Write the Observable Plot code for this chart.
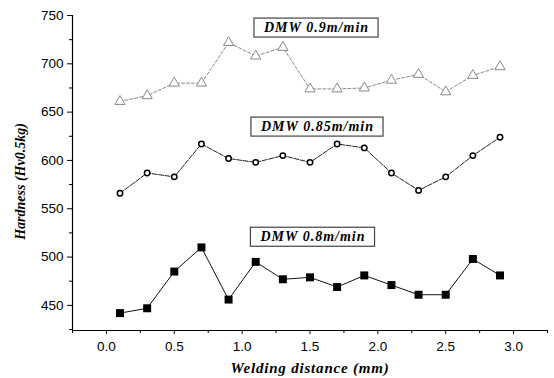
<!DOCTYPE html>
<html>
<head>
<meta charset="utf-8">
<script src="https://cdn.jsdelivr.net/npm/d3@7"></script>
<script src="https://cdn.jsdelivr.net/npm/@observablehq/plot@0.6"></script>
<style>
  html, body { margin: 0; padding: 0; background: #fff; }
  svg { display: block; }
</style>
</head>
<body>
<div id="chart"></div>
<script>
const distance = [0.1, 0.3, 0.5, 0.7, 0.9, 1.1, 1.3, 1.5, 1.7, 1.9, 2.1, 2.3, 2.5, 2.7, 2.9];
const dmw08 = [442, 447, 485, 510, 456, 495, 477, 479, 469, 481, 471, 461, 461, 498, 481];
const dmw085 = [566, 587, 583, 617, 602, 598, 605, 598, 617, 613, 587, 569, 583, 605, 624];
const dmw09 = [661, 667, 680, 680, 722, 708, 717, 674, 674, 675, 683, 689, 671, 688, 697];
const seriesNames = ["DMW 0.8m/min", "DMW 0.85m/min", "DMW 0.9m/min"];
const xTicks = [0, 0.5, 1.0, 1.5, 2.0, 2.5, 3.0];
const yTicks = [450, 500, 550, 600, 650, 700, 750];

const toRows = (vals) => distance.map((x, i) => ({x, y: vals[i]}));
const r08 = toRows(dmw08), r085 = toRows(dmw085), r09 = toRows(dmw09);

const xMinor = d3.range(-0.25, 3.26, 0.5);
const yMinor = d3.range(425, 751, 50);

const labels = [
  {x: 1.548, y: 737.5, text: seriesNames[2]},
  {x: 1.555, y: 635, text: seriesNames[1]},
  {x: 1.522, y: 521, text: seriesNames[0]}
];

const serif = "Liberation Serif, Times New Roman, serif";

const plot = Plot.plot({
  width: 554,
  height: 378,
  marginLeft: 72,
  marginRight: 7,
  marginTop: 15,
  marginBottom: 48,
  style: {fontFamily: "Liberation Sans, Arial, sans-serif", fontSize: "13px", background: "#fff"},
  x: {domain: [-0.25, 3.25]},
  y: {domain: [424, 750]},
  marks: [
    Plot.ruleX([-0.25], {stroke: "#000", strokeWidth: 1.2}),
    Plot.ruleY([424], {stroke: "#000", strokeWidth: 1.2}),
    Plot.axisX({ticks: xTicks, tickFormat: d3.format(".1f"), tickSize: 4, tickPadding: 7, fontSize: 13.5, label: null}),
    Plot.axisX({ticks: xMinor, tickSize: 3, text: null, label: null}),
    Plot.axisY({ticks: yTicks, tickSize: 5, tickPadding: 4, fontSize: 13.5, label: null}),
    Plot.axisY({ticks: yMinor, tickSize: 3, text: null, label: null}),
    Plot.line(r09, {x: "x", y: "y", stroke: "#888", strokeWidth: 1, strokeDasharray: "3,2"}),
    Plot.dot(r09, {x: "x", y: "y", symbol: "triangle", r: 3.8, stroke: "#888", strokeWidth: 1, fill: "#fff"}),
    Plot.line(r085, {x: "x", y: "y", stroke: "#222", strokeWidth: 1, strokeDasharray: "5,1.5"}),
    Plot.dot(r085, {x: "x", y: "y", symbol: "circle", r: 2.7, stroke: "#000", strokeWidth: 1.5, fill: "#fff"}),
    Plot.line(r08, {x: "x", y: "y", stroke: "#111", strokeWidth: 1}),
    Plot.dot(r08, {x: "x", y: "y", symbol: "square", r: 4.5, fill: "#000", stroke: "none"}),
    Plot.text(labels, {x: "x", y: "y", text: "text", fontFamily: serif, fontStyle: "italic", fontWeight: "bold", fontSize: 14, fill: "#000", className: "boxlabel"}),
    Plot.text(["Welding distance (mm)"], {frameAnchor: "bottom", dy: 42, fontFamily: serif, fontStyle: "italic", fontWeight: "bold", fontSize: 15, fill: "#000", className: "xlabel"}),
    Plot.text(["Hardness (Hv0.5kg)"], {frameAnchor: "left", textAnchor: "middle", dx: -52, dy: 8.5, rotate: -90, fontFamily: serif, fontStyle: "italic", fontWeight: "bold", fontSize: 14, fill: "#000"})
  ]
});
document.getElementById("chart").appendChild(plot);
plot.querySelectorAll("g.xlabel text").forEach(t => t.setAttribute("letter-spacing", "0.8"));
// draw frames around the series labels
plot.querySelectorAll("g.boxlabel text").forEach(t => {
  t.setAttribute("letter-spacing", "1");
  const b = t.getBBox();
  const tr = t.getAttribute("transform");
  const rect = document.createElementNS("http://www.w3.org/2000/svg", "rect");
  rect.setAttribute("x", b.x - 9);
  rect.setAttribute("y", b.y - 2);
  rect.setAttribute("width", b.width + 18);
  rect.setAttribute("height", b.height + 4);
  rect.setAttribute("fill", "#fff");
  rect.setAttribute("stroke", "#444");
  rect.setAttribute("stroke-width", "1.2");
  if (tr) rect.setAttribute("transform", tr);
  t.parentNode.insertBefore(rect, t);
});
</script>
</body>
</html>
